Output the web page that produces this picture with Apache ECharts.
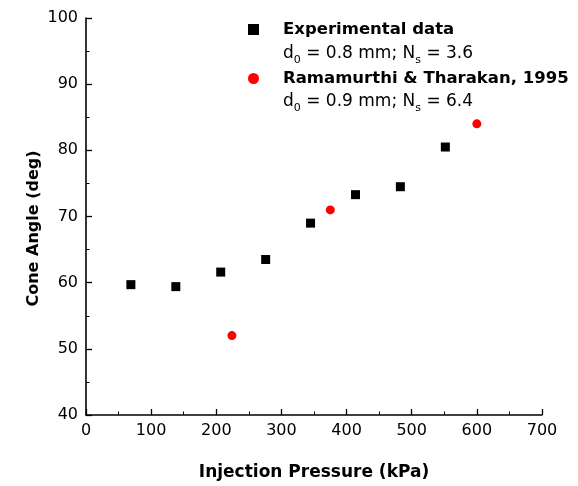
<!DOCTYPE html>
<html>
<head>
<meta charset="utf-8">
<script src="https://cdn.jsdelivr.net/npm/echarts@6/dist/echarts.min.js"></script>
<style>
  html, body { margin: 0; padding: 0; background: #fff; }
  #chart { width: 578px; height: 486px; }
</style>
</head>
<body>
<div id="chart"></div>
<script>
// Experimental data (pressure in kPa, cone angle in deg)
var expPressure = [68.9, 137.9, 206.8, 275.8, 344.7, 413.7, 482.6, 551.6]
var expAngle = [59.7, 59.4, 61.6, 63.5, 69.0, 73.3, 74.5, 80.5]
// Ramamurthi & Tharakan, 1995
var ramPressure = [224, 375, 600]
var ramAngle = [52.0, 71.0, 84.0]

var xTicks = [0, 700, 100]  // min, max, interval
var yTicks = [40, 100, 10]

function pairs(xs, ys) {
  var out = []
  for (var i = 0; i < xs.length; i++) {
    out.push([xs[i], ys[i]])
  }
  return out
}

var font = 'DejaVu Sans'
var chart = echarts.init(document.getElementById('chart'))

var axisCommon = {
  axisLine: { lineStyle: { color: '#000', width: 1.6 } },
  axisTick: { inside: true, length: 6, lineStyle: { color: '#000', width: 1.3 } },
  minorTick: { show: true, splitNumber: 2, length: 3.5, lineStyle: { color: '#000', width: 1 } },
  splitLine: { show: false },
  axisLabel: { color: '#000', fontFamily: font, fontSize: 16, margin: 8 },
  nameLocation: 'middle',
  nameTextStyle: { color: '#000', fontFamily: font, fontSize: 16, fontWeight: 'bold' }
}

var subStyles = {
  n: { fontFamily: font, fontSize: 17, color: '#000', lineHeight: 22 },
  s: { fontFamily: font, fontSize: 11, color: '#000', lineHeight: 22, padding: [14, 0, 0, 0] }
}

chart.setOption({
  backgroundColor: '#fff',
  animation: false,
  grid: { left: 86, right: 36, top: 18, bottom: 70 },
  xAxis: Object.assign({}, axisCommon, {
    type: 'value',
    min: xTicks[0], max: xTicks[1], interval: xTicks[2],
    name: 'Injection Pressure (kPa)',
    nameGap: 49,
    nameTextStyle: Object.assign({}, axisCommon.nameTextStyle, { fontSize: 17 })
  }),
  yAxis: Object.assign({}, axisCommon, {
    type: 'value',
    min: yTicks[0], max: yTicks[1], interval: yTicks[2],
    name: 'Cone Angle (deg)',
    nameGap: 44,
    nameMoveOverlap: false,
    nameTextStyle: Object.assign({}, axisCommon.nameTextStyle, { padding: [0, 24, 0, 0] })
  }),
  legend: {
    orient: 'vertical',
    left: 243,
    top: 16,
    itemWidth: 11,
    itemHeight: 11,
    itemGap: 32,
    textStyle: { fontFamily: font, fontSize: 16.5, fontWeight: 'bold', color: '#000', padding: [0, 0, 0, 19] },
    data: [
      { name: 'Experimental data', icon: 'rect' },
      { name: 'Ramamurthi & Tharakan, 1995', icon: 'circle' }
    ]
  },
  graphic: [
    {
      type: 'text', left: 283, top: 41,
      style: {
        text: '{n|d}{s|0}{n| = 0.8 mm; N}{s|s}{n| = 3.6}',
        rich: subStyles
      }
    },
    {
      type: 'text', left: 283, top: 89,
      style: {
        text: '{n|d}{s|0}{n| = 0.9 mm; N}{s|s}{n| = 6.4}',
        rich: subStyles
      }
    }
  ],
  series: [
    {
      name: 'Experimental data',
      type: 'scatter',
      symbol: 'rect',
      symbolSize: 9,
      itemStyle: { color: '#000', opacity: 1 },
      data: pairs(expPressure, expAngle)
    },
    {
      name: 'Ramamurthi & Tharakan, 1995',
      type: 'scatter',
      symbol: 'circle',
      symbolSize: 9,
      itemStyle: { color: '#ff0000', opacity: 1 },
      data: pairs(ramPressure, ramAngle)
    }
  ]
})
</script>
</body>
</html>
